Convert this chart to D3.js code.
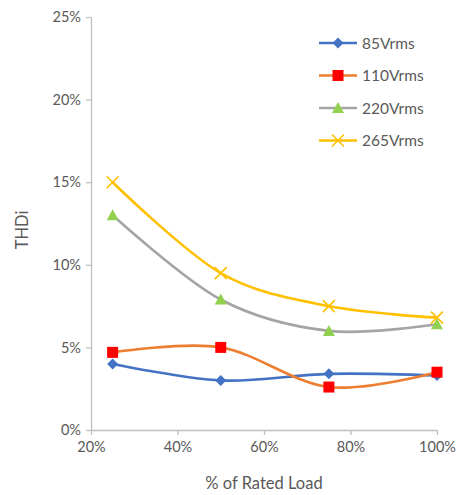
<!DOCTYPE html>
<html>
<head>
<meta charset="utf-8">
<script src="https://cdn.jsdelivr.net/npm/d3@7"></script>
<style>
  html, body { margin: 0; padding: 0; background: #fff; }
  svg text { font-family: Lato, "Open Sans", sans-serif; fill: #595959; }
</style>
</head>
<body>
<svg id="chart" width="464" height="495"></svg>
<script>
// Load points (% of rated load)
const loads = [25, 50, 75, 100];
// THDi (%) per input voltage
const thd85 = [4.0, 3.0, 3.4, 3.3];
const thd110 = [4.7, 5.0, 2.6, 3.5];
const thd220 = [13.0, 7.9, 6.0, 6.4];
const thd265 = [15.0, 9.5, 7.5, 6.8];
const seriesNames = ["85Vrms", "110Vrms", "220Vrms", "265Vrms"];
const xTicks = [20, 40, 60, 80, 100];
const yTicks = [0, 5, 10, 15, 20, 25];

const series = [
  { name: seriesNames[0], values: thd85, line: "#4472C4", marker: "#4472C4", shape: "diamond" },
  { name: seriesNames[1], values: thd110, line: "#ED7D31", marker: "#FF0000", shape: "square" },
  { name: seriesNames[2], values: thd220, line: "#A5A5A5", marker: "#92D050", shape: "triangle" },
  { name: seriesNames[3], values: thd265, line: "#FFC000", marker: "#FFC000", shape: "cross" }
];

const svg = d3.select("#chart");
const m = { left: 91, right: 27, top: 17, bottom: 65 };
const W = 464, H = 495;

const x = d3.scaleLinear().domain([20, 100]).range([m.left, W - m.right]);
const y = d3.scaleLinear().domain([0, 25]).range([H - m.bottom, m.top]);

const axisColor = "#BFBFBF";

// y axis
const yAxis = svg.append("g")
  .attr("transform", `translate(${m.left},0)`)
  .call(d3.axisLeft(y).tickValues(yTicks).tickFormat(d => d + "%").tickSize(5).tickSizeOuter(0));
yAxis.select(".domain").attr("stroke", axisColor).attr("stroke-width", 1.3);
yAxis.selectAll(".tick line").attr("stroke", axisColor).attr("stroke-width", 1.3);
yAxis.selectAll(".tick text").attr("x", -10).style("font-size", "14.5px");

// x axis
const xAxis = svg.append("g")
  .attr("transform", `translate(0,${y(0)})`)
  .call(d3.axisBottom(x).tickValues(xTicks).tickFormat(d => d + "%").tickSize(5).tickSizeOuter(0));
xAxis.select(".domain").attr("stroke", axisColor).attr("stroke-width", 1.3);
xAxis.selectAll(".tick line").attr("stroke", axisColor).attr("stroke-width", 1.3);
xAxis.selectAll(".tick text").attr("y", 12).style("font-size", "14.5px");
svg.selectAll("g").attr("font-family", null);

// axis titles
svg.append("text")
  .attr("x", (x(20) + x(100)) / 2).attr("y", 489)
  .attr("text-anchor", "middle").style("font-size", "16.5px")
  .text("% of Rated Load");
svg.append("text")
  .attr("transform", "translate(28,230) rotate(-90)")
  .attr("text-anchor", "middle").style("font-size", "16.5px")
  .text("THDi");

// marker drawing
function drawMarker(g, shape, color) {
  if (shape === "diamond") {
    g.append("path").attr("d", "M0,-5.5L5.5,0L0,5.5L-5.5,0Z").attr("fill", color);
  } else if (shape === "square") {
    g.append("rect").attr("x", -5.5).attr("y", -5.5).attr("width", 11).attr("height", 11).attr("fill", color);
  } else if (shape === "triangle") {
    g.append("path").attr("d", "M0,-6L6,5L-6,5Z").attr("fill", color);
  } else {
    g.append("path").attr("d", "M-6,-6L6,6M-6,6L6,-6").attr("stroke", color).attr("stroke-width", 1.6).attr("fill", "none");
  }
}

const line = d3.line()
  .x((d, i) => x(loads[i]))
  .y(d => y(d))
  .curve(d3.curveCatmullRom.alpha(0));

series.forEach(s => {
  svg.append("path")
    .attr("d", line(s.values))
    .attr("fill", "none")
    .attr("stroke", s.line)
    .attr("stroke-width", 2.6)
    .attr("stroke-linecap", "round");
});
series.forEach(s => {
  s.values.forEach((v, i) => {
    const g = svg.append("g").attr("transform", `translate(${x(loads[i])},${y(v)})`);
    drawMarker(g, s.shape, s.marker);
  });
});

// legend
const legend = svg.append("g");
series.forEach((s, i) => {
  const ly = 43 + i * 32.5;
  const g = legend.append("g").attr("transform", `translate(0,${ly})`);
  g.append("line").attr("x1", 319).attr("x2", 357).attr("y1", 0).attr("y2", 0)
    .attr("stroke", s.line).attr("stroke-width", 2.6);
  const mg = g.append("g").attr("transform", "translate(338,0)");
  drawMarker(mg, s.shape, s.marker);
  g.append("text").attr("x", 362).attr("y", 5.5).style("font-size", "15.5px").text(s.name);
});
</script>
</body>
</html>
